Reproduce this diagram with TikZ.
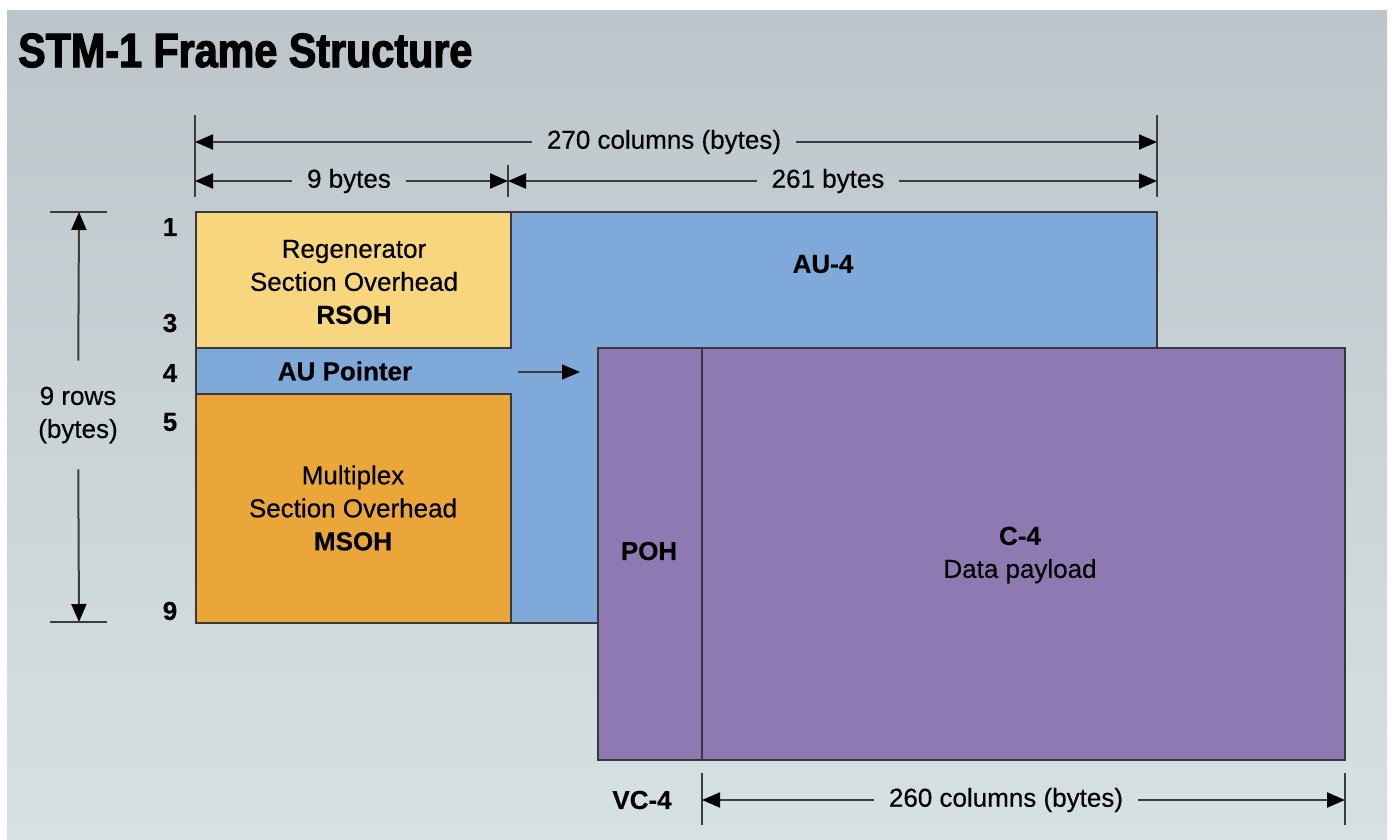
\documentclass[tikz,border=0pt]{standalone}
\usepackage{fontspec}
\setmainfont[FakeBold=0.4]{Liberation Sans}
\newfontfamily\titlefont[FakeStretch=0.86,FakeBold=2.5]{Liberation Sans Bold}
\usetikzlibrary{arrows.meta}

\definecolor{BgTop}{RGB}{188,198,202}
\definecolor{BgBottom}{RGB}{214,225,227}
\definecolor{RsohFill}{RGB}{247,214,126}
\definecolor{MsohFill}{RGB}{235,166,58}
\definecolor{AuFill}{RGB}{126,169,217}
\definecolor{VcFill}{RGB}{143,121,179}
\definecolor{EdgeGray}{RGB}{55,55,60}
\definecolor{DimGray}{RGB}{60,60,60}

\tikzset{
    block/.style={draw=EdgeGray, line width=1.5pt},
    lab/.style={font=\fontsize{26}{33}\selectfont, align=center, inner sep=0pt},
    boldlab/.style={lab, font=\bfseries\fontsize{26}{33}\selectfont},
    dimlab/.style={lab, outer xsep=15pt},
    dimline/.style={draw=DimGray, line width=2pt,
        -{Triangle[length=18pt,width=15pt,color=black]}},
    tickline/.style={draw=DimGray, line width=1.5pt}
}

\begin{document}
\begin{tikzpicture}[x=1pt, y=-1pt]

\useasboundingbox (0,0) rectangle (1393,839);

% Fondo
\fill[white] (0,0) rectangle (1393,839);
\shade[top color=BgTop, bottom color=BgBottom] (7,10) rectangle (1387,839);

\node[anchor=base west, font=\titlefont\fontsize{48}{48}\selectfont, inner sep=0pt]
    (title) at (18,67) {STM-1 Frame Structure};

% Esquinas de los bloques
\coordinate (A) at (196,212);
\coordinate (B) at (1157,623);
\coordinate (M) at (511,348);
\coordinate (N) at (511,394);
\coordinate (P) at (598,348);
\coordinate (Q) at (1345,760);

% Bloques, del fondo hacia adelante
\draw[block, fill=AuFill] (A) rectangle (B);
\draw[block, fill=RsohFill] (A) rectangle (M);
\draw[block, fill=MsohFill] (196,394) rectangle (511,623);
\draw[block, fill=VcFill] (P) rectangle (Q);
\draw[block] (702,348) -- (702,760);

% Textos de los bloques
\node[lab] (rsoh) at (354,282) {Regenerator\\Section Overhead\\\textbf{RSOH}};
\node[lab] (msoh) at (353,508) {Multiplex\\Section Overhead\\\textbf{MSOH}};
\node[boldlab] (au4) at (823,264) {AU-4};
\node[boldlab] (ptr) at (345,371) {AU Pointer};
\node[boldlab] (poh) at (649,551) {POH};
\node[lab] (c4) at (1020,555) {\textbf{C-4}\\Data payload};

\coordinate (ptr-a) at (518,372);
\coordinate (ptr-b) at (580,372);
\draw[dimline, line width=1.5pt] (ptr-a) -- (ptr-b);

% Cotas superiores
\draw[tickline] (195,115) -- (195,197);
\draw[tickline] (508,165) -- (508,197);
\draw[tickline] (1157,115) -- (1157,197);

\coordinate (tot-l) at (195,142);
\coordinate (tot-r) at (1157,142);
\coordinate (ovh-l) at (195,181);
\coordinate (ovh-r) at (508,181);
\coordinate (pay-l) at (508,181);
\coordinate (pay-r) at (1157,181);

\node[dimlab] (tot) at (664,142) {270 columns (bytes)};
\node[dimlab] (ovh) at (349,181) {9 bytes};
\node[dimlab] (pay) at (828,181) {261 bytes};

\draw[dimline] (tot) -- (tot-l);
\draw[dimline] (tot) -- (tot-r);
\draw[dimline] (ovh) -- (ovh-l);
\draw[dimline] (ovh) -- (ovh-r);
\draw[dimline] (pay) -- (pay-l);
\draw[dimline] (pay) -- (pay-r);

% Filas
\foreach \row/\y in {1/227, 3/323, 4/373, 5/422, 9/611}
    \node[boldlab] (row\row) at (170,\y) {\row};

\draw[tickline] (50,212) -- (107,212);
\draw[tickline] (50,622) -- (107,622);
\coordinate (rows-t) at (79,212);
\coordinate (rows-b) at (79,622);
\node[lab, outer ysep=26pt] (rows) at (78,415) {9 rows\\(bytes)};
\draw[dimline] (rows) -- (rows-t);
\draw[dimline] (rows) -- (rows-b);

% Cota inferior
\draw[tickline] (702,773) -- (702,825);
\draw[tickline] (1345,773) -- (1345,825);
\coordinate (vc-l) at (702,800);
\coordinate (vc-r) at (1345,800);
\node[boldlab] (vc4) at (642,800) {VC-4};
\node[dimlab] (vcw) at (1006,800) {260 columns (bytes)};
\draw[dimline] (vcw) -- (vc-l);
\draw[dimline] (vcw) -- (vc-r);

\end{tikzpicture}
\end{document}
